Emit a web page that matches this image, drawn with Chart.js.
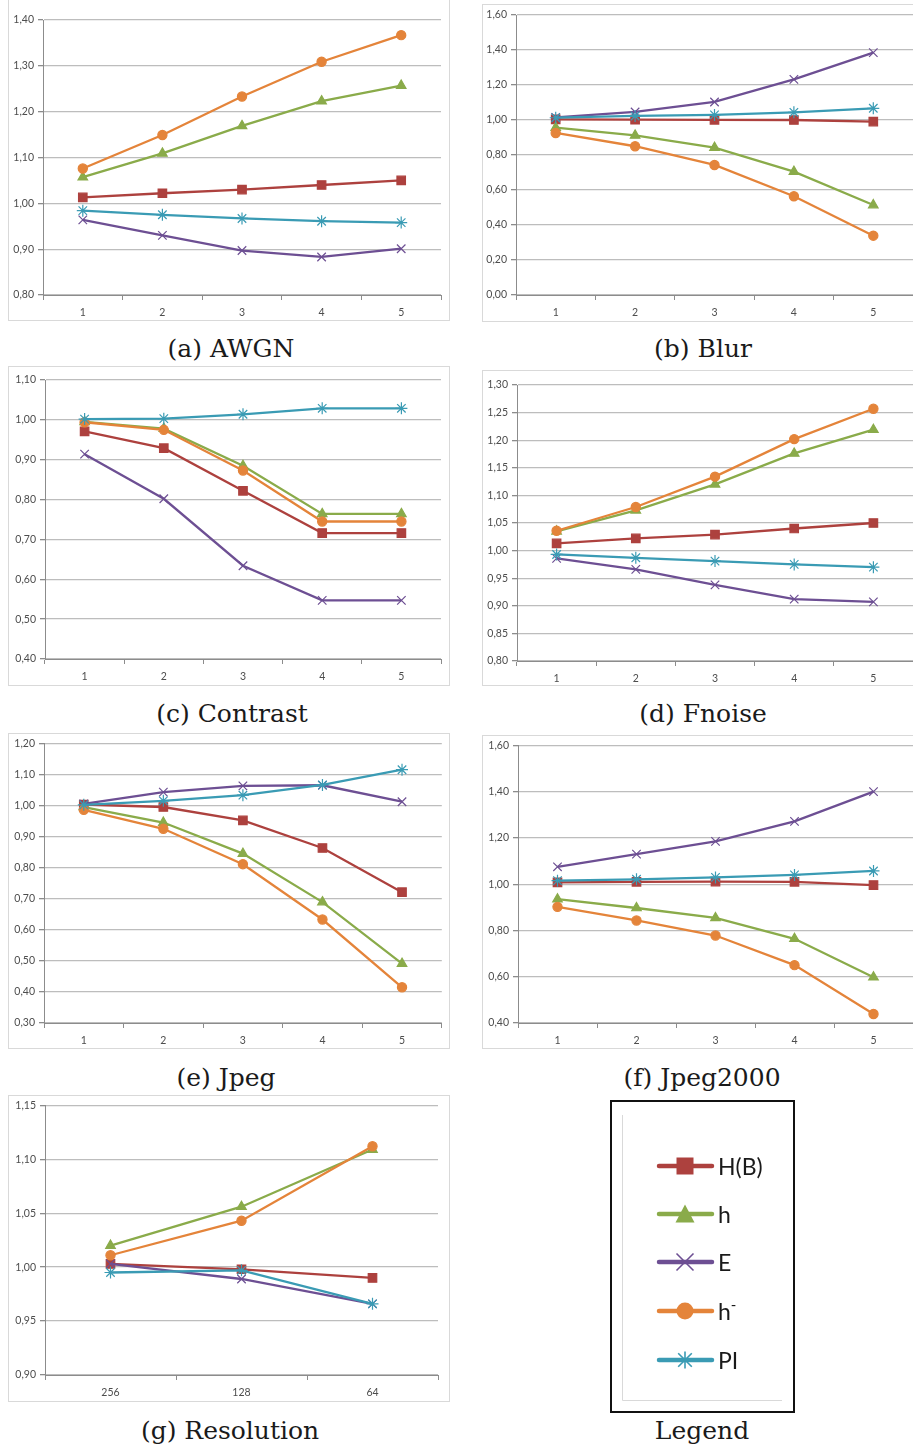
<!DOCTYPE html>
<html>
<head>
<meta charset="utf-8">
<script src="https://cdn.jsdelivr.net/npm/chart.js@4.4.1/dist/chart.umd.min.js"></script>
<style>
  body { margin: 0; width: 913px; height: 1446px; overflow: hidden; background: #fff; position: relative; }
  canvas { position: absolute; }
  .frame { position: absolute; border: 1px solid #d9d9d9; box-sizing: border-box; }
  .cap { position: absolute; font-family: 'DejaVu Serif', serif; font-size: 25px; color: #1a1a1a;
         transform: translate(-50%, -50%); white-space: nowrap; }
  .legbox { position: absolute; left: 610px; top: 1100px; width: 185px; height: 313px;
            border: 2px solid #111; box-sizing: border-box; }
  .legtxt { position: absolute; font-family: Lato, sans-serif; font-size: 23px; color: #1a1a1a;
            transform: translateY(-50%); white-space: nowrap; }
  .legtxt sup { font-size: 15px; position: relative; top: -2px; }
</style>
</head>
<body>
<script>
// series: H(B), h, E, h-, PI  (every row below keeps this order)
const seriesNames = ['H(B)', 'h', 'E', 'h-', 'PI'];
const levels = ['1', '2', '3', '4', '5'];
const resolutions = ['256', '128', '64'];

const awgn = [
  [1.013, 1.022, 1.030, 1.040, 1.050],
  [1.057, 1.109, 1.169, 1.223, 1.257],
  [0.964, 0.930, 0.897, 0.883, 0.901],
  [1.076, 1.149, 1.233, 1.309, 1.367],
  [0.984, 0.975, 0.967, 0.961, 0.958]
];
const blur = [
  [1.004, 1.002, 1.001, 1.000, 0.991],
  [0.956, 0.912, 0.842, 0.705, 0.514],
  [1.015, 1.046, 1.103, 1.232, 1.385],
  [0.926, 0.850, 0.743, 0.564, 0.339],
  [1.013, 1.023, 1.029, 1.044, 1.067]
];
const contrast = [
  [0.971, 0.929, 0.822, 0.716, 0.716],
  [0.995, 0.978, 0.885, 0.764, 0.764],
  [0.914, 0.802, 0.634, 0.547, 0.547],
  [0.994, 0.975, 0.873, 0.745, 0.745],
  [1.002, 1.003, 1.014, 1.029, 1.029]
];
const fnoise = [
  [1.013, 1.022, 1.029, 1.040, 1.050],
  [1.035, 1.073, 1.120, 1.176, 1.219],
  [0.986, 0.966, 0.938, 0.912, 0.907],
  [1.036, 1.079, 1.134, 1.202, 1.257],
  [0.993, 0.987, 0.981, 0.975, 0.970]
];
const jpeg = [
  [1.003, 0.995, 0.952, 0.863, 0.721],
  [0.995, 0.945, 0.845, 0.689, 0.491],
  [1.005, 1.043, 1.063, 1.065, 1.012],
  [0.986, 0.925, 0.811, 0.633, 0.415],
  [1.002, 1.015, 1.033, 1.066, 1.115]
];
const jpeg2000 = [
  [1.008, 1.010, 1.011, 1.010, 0.996],
  [0.935, 0.897, 0.854, 0.764, 0.598],
  [1.075, 1.130, 1.185, 1.271, 1.400],
  [0.902, 0.843, 0.778, 0.650, 0.439],
  [1.015, 1.021, 1.029, 1.040, 1.057]
];
const resolution = [
  [1.003, 0.998, 0.990],
  [1.020, 1.056, 1.109],
  [1.003, 0.989, 0.966],
  [1.011, 1.043, 1.112],
  [0.995, 0.997, 0.966]
];

// y axis [min, max, step]
const awgnTicks = [0.8, 1.4, 0.1];
const blurTicks = [0, 1.6, 0.2];
const contrastTicks = [0.4, 1.1, 0.1];
const fnoiseTicks = [0.8, 1.3, 0.05];
const jpegTicks = [0.3, 1.2, 0.1];
const jpeg2000Ticks = [0.4, 1.6, 0.2];
const resolutionTicks = [0.9, 1.15, 0.05];

// look of each series
const colors = ['#ad413e', '#8aab4a', '#6d4f93', '#e4843a', '#3a9bb4'];
const markers = ['rect', 'triangle', 'crossRot', 'circle', 'star'];
const markerSize = [6, 5.5, 6, 4.6, 6];

const tickFont = { family: 'Lato', size: 10.5 };

function panel(box, plot, cap, labels, rows, ticks) {
  const [bx0, by0, bx1, by1] = box;
  const [px0, py0, px1, py1] = plot;
  const cv = document.createElement('canvas');
  cv.width = bx1 - bx0;
  cv.height = by1 - by0;
  cv.style.left = bx0 + 'px';
  cv.style.top = by0 + 'px';
  document.body.appendChild(cv);

  const fr = document.createElement('div');
  fr.className = 'frame';
  fr.style.left = bx0 + 'px';
  fr.style.top = by0 + 'px';
  fr.style.width = (bx1 - bx0 + 1) + 'px';
  fr.style.height = (by1 - by0 + 1) + 'px';
  document.body.appendChild(fr);

  const c = document.createElement('div');
  c.className = 'cap';
  c.textContent = cap[0];
  c.style.left = cap[1] + 'px';
  c.style.top = cap[2] + 'px';
  document.body.appendChild(c);

  new Chart(cv, {
    type: 'line',
    data: {
      labels: labels,
      datasets: rows.map((d, i) => ({
        label: seriesNames[i],
        data: d,
        borderColor: colors[i],
        backgroundColor: colors[i],
        borderWidth: 2.3,
        pointStyle: markers[i],
        pointRadius: markerSize[i],
        pointBorderWidth: 1.2,
        tension: 0,
        order: 5 - i
      }))
    },
    options: {
      responsive: false,
      animation: false,
      events: [],
      layout: { padding: { left: 0, top: py0 - by0, right: bx1 - px1, bottom: 0 } },
      plugins: { legend: { display: false }, tooltip: { enabled: false } },
      scales: {
        x: {
          offset: true,
          grid: { offset: true, drawOnChartArea: false, tickLength: 5, color: '#8c8c8c' },
          border: { color: '#8c8c8c' },
          ticks: { font: tickFont, color: '#4d4d4d', padding: 6, maxRotation: 0 },
          afterFit: s => { s.height = by1 - py1; }
        },
        y: {
          min: ticks[0],
          max: ticks[1],
          grid: { color: '#bdbdbd', lineWidth: 1.3, tickColor: '#8c8c8c', tickLength: 5 },
          border: { color: '#8c8c8c' },
          ticks: {
            stepSize: ticks[2],
            font: tickFont,
            color: '#4d4d4d',
            padding: 4,
            callback: v => v.toFixed(2).replace('.', ',')
          },
          afterFit: s => { s.width = px0 - bx0; }
        }
      }
    }
  });
}

panel([8, -1, 449, 320], [43, 20, 441, 295], ['(a) AWGN', 231, 348], levels, awgn, awgnTicks);
panel([482, 4, 921, 321], [516, 15, 913, 295], ['(b) Blur', 703, 348], levels, blur, blurTicks);
panel([8, 366, 449, 685], [45, 380, 441, 659], ['(c) Contrast', 232, 713], levels, contrast, contrastTicks);
panel([482, 370, 921, 685], [517, 385, 913, 661], ['(d) Fnoise', 703, 713], levels, fnoise, fnoiseTicks);
panel([8, 733, 449, 1048], [44, 743, 442, 1023], ['(e) Jpeg', 226, 1077], levels, jpeg, jpegTicks);
panel([482, 735, 921, 1048], [518, 744, 913, 1023], ['(f) Jpeg2000', 702, 1077], levels, jpeg2000, jpeg2000Ticks);
panel([8, 1095, 449, 1401], [45, 1105, 438, 1375], ['(g) Resolution', 230, 1430], resolutions, resolution, resolutionTicks);

// legend panel: line sample with marker, then the series name
const box = document.createElement('div');
box.className = 'legbox';
document.body.appendChild(box);

const lg = document.createElement('canvas');
lg.width = 185; lg.height = 313;
lg.style.left = '610px'; lg.style.top = '1100px';
document.body.appendChild(lg);
const g = lg.getContext('2d');
g.strokeStyle = '#d9d9d9'; g.lineWidth = 1;
g.beginPath(); g.moveTo(12.5, 15); g.lineTo(12.5, 300.5); g.lineTo(172, 300.5); g.stroke();

const rowY = [66, 114, 162, 211, 260];
seriesNames.forEach((name, i) => {
  const y = rowY[i], x = 75, r = 8.5;
  g.strokeStyle = colors[i]; g.fillStyle = colors[i];
  g.lineWidth = 4.5; g.lineCap = 'round';
  g.beginPath(); g.moveTo(49, y); g.lineTo(102, y); g.stroke();
  g.lineCap = 'butt'; g.lineWidth = 1.6;
  g.beginPath();
  if (markers[i] === 'rect') {
    g.rect(x - r, y - r, 2 * r, 2 * r); g.fill();
  } else if (markers[i] === 'triangle') {
    g.moveTo(x, y - r - 1); g.lineTo(x + r + 1, y + r); g.lineTo(x - r - 1, y + r); g.closePath(); g.fill();
  } else if (markers[i] === 'crossRot') {
    g.moveTo(x - r, y - r); g.lineTo(x + r, y + r); g.moveTo(x + r, y - r); g.lineTo(x - r, y + r); g.stroke();
  } else if (markers[i] === 'circle') {
    g.arc(x, y, r, 0, Math.PI * 2); g.fill();
  } else {
    g.moveTo(x - r * 0.8, y - r * 0.8); g.lineTo(x + r * 0.8, y + r * 0.8);
    g.moveTo(x + r * 0.8, y - r * 0.8); g.lineTo(x - r * 0.8, y + r * 0.8);
    g.moveTo(x, y - r); g.lineTo(x, y + r); g.stroke();
  }
  const t = document.createElement('div');
  t.className = 'legtxt';
  t.style.left = '718px';
  t.style.top = (1100 + y) + 'px';
  if (name === 'h-') t.innerHTML = 'h<sup>-</sup>';
  else t.textContent = name;
  document.body.appendChild(t);
});

const lc = document.createElement('div');
lc.className = 'cap';
lc.textContent = 'Legend';
lc.style.left = '702px';
lc.style.top = '1430px';
document.body.appendChild(lc);
</script>
</body>
</html>
